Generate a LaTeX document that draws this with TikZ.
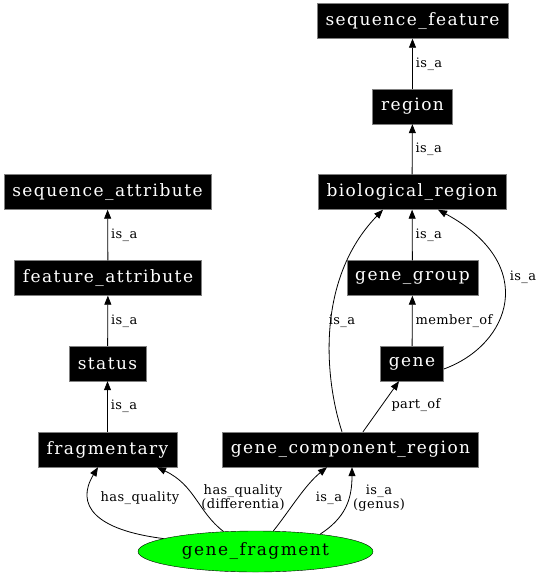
\documentclass[tikz,border=0pt]{standalone}
\usepackage{fontspec}
\setmainfont{DejaVu Serif}
\newfontfamily\termfont[LetterSpace=8.5]{DejaVu Serif}
\newfontfamily\edgefont[LetterSpace=3]{DejaVu Serif}
\usetikzlibrary{arrows.meta,shapes.geometric}

\tikzset{
	term/.style={fill=black, draw=gray, text=white, font=\termfont\fontsize{17}{19}\selectfont,
		minimum height=35pt, inner xsep=8.5pt},
	arr/.style={-{Triangle[length=9pt,width=7pt]}, line width=0.8pt},
	lbl/.style={font=\edgefont\fontsize{13}{14}\selectfont, align=center, inner sep=1pt}
}

\begin{document}
\begin{tikzpicture}[x=1pt,y=-1pt]
		\useasboundingbox (0,0) rectangle (542,576);
		% right column
		\node[term] (sf) at (412.5,21) {sequence\_feature};
		\node[term] (reg) at (412.5,106.5) {region};
		\node[term] (bio) at (412,192) {biological\_region};
		\node[term] (gg) at (412.5,278) {gene\_group};
		\node[term] (gene) at (412,363.5) {gene};
		\node[term] (gcr) at (350.5,449.5) {gene\_component\_region};
		% left column
		\node[term] (sa) at (107.5,192) {sequence\_attribute};
		\node[term] (fa) at (108,278) {feature\_attribute};
		\node[term] (st) at (107.5,363.5) {status};
		\node[term] (fr) at (107.5,449.5) {fragmentary};
		\node[ellipse, draw=black, fill=green, minimum width=235pt, minimum height=41pt,
			inner sep=0pt, font=\termfont\fontsize{17}{19}\selectfont] (gf) at (255.5,551.5) {gene\_fragment};
		% straight is_a edges
		\draw[arr] (reg) -- (sf) node[lbl, midway, right=2pt] {is\_a};
		\draw[arr] (bio) -- (reg) node[lbl, midway, right=2pt] {is\_a};
		\draw[arr] (gg) -- (bio) node[lbl, midway, right=2pt] {is\_a};
		\draw[arr] (gene) -- (gg) node[lbl, midway, right=2pt] {member\_of};
		\draw[arr] (fa) -- (sa) node[lbl, midway, right=2pt] {is\_a};
		\draw[arr] (st) -- (fa) node[lbl, midway, right=2pt] {is\_a};
		\draw[arr] (fr) -- (st) node[lbl, midway, right=2pt] {is\_a};
		% curved edges
		\draw[arr] ([xshift=-8.5pt]gcr.north) .. controls (325,380) and (315,280) .. ([xshift=-29pt]bio.south);
		\node[lbl] (l1) at (342,321) {is\_a};
		\draw[arr] ([yshift=-5.5pt]gene.east) .. controls (510,345) and (540,265) .. ([xshift=26pt]bio.south);
		\node[lbl] (l2) at (523,277) {is\_a};
		\draw[arr] ([xshift=12.5pt]gcr.north) -- ([xshift=-13pt]gene.south);
		\node[lbl] (l3) at (416,405) {part\_of};
		% from gene_fragment
		\draw[arr] (gf.172) .. controls (95,530) and (75,505) .. ([xshift=-9.5pt]fr.south);
		\node[lbl] (l4) at (140,498) {has\_quality};
		\draw[arr] (gf.148) .. controls (198,512) and (195,485) .. ([xshift=49.5pt]fr.south);
		\node[lbl] (l5) at (243,498) {has\_quality\\(differentia)};
		\draw[arr] (gf.49) .. controls (290,510) and (305,485) .. ([xshift=-23.5pt]gcr.south);
		\node[lbl] (l6) at (329,498) {is\_a};
		\draw[arr] (gf.15.5) .. controls (345,518) and (352,500) .. ([xshift=1.5pt]gcr.south);
		\node[lbl] (l7) at (379,498) {is\_a\\(genus)};
\end{tikzpicture}
\end{document}
